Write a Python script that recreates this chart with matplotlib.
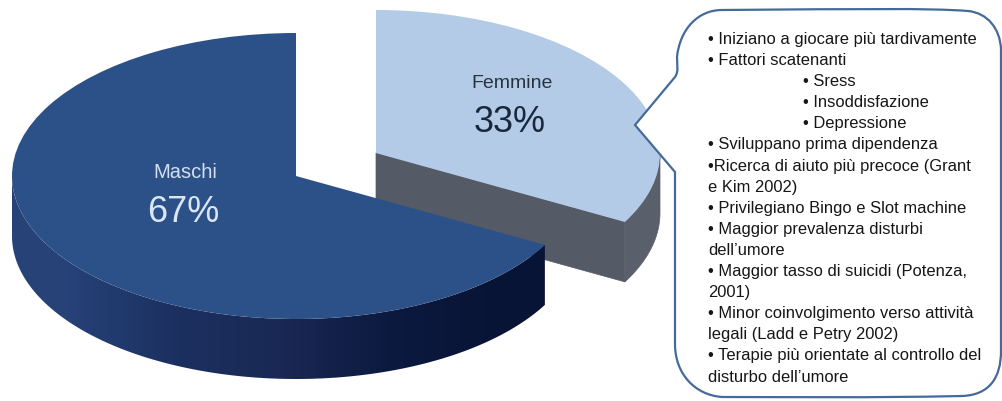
"""
Torta 3D maschi/femmine con fumetto delle caratteristiche femminili.
"""

import matplotlib

matplotlib.use("Agg")
import matplotlib.pyplot as plt
import numpy as np
from matplotlib.patches import PathPatch, Polygon
from matplotlib.path import Path
from matplotlib.transforms import Affine2D

plt.rcParams["font.family"] = ["Liberation Sans", "DejaVu Sans"]

categorie = ["Femmine", "Maschi"]
valori = [33, 67]

righe_fumetto = [
    "• Iniziano a giocare più tardivamente",
    "• Fattori scatenanti",
    "• Sress",
    "• Insoddisfazione",
    "• Depressione",
    "• Sviluppano prima dipendenza",
    "•Ricerca di aiuto più precoce (Grant",
    "e Kim 2002)",
    "• Privilegiano Bingo e Slot machine",
    "• Maggior prevalenza disturbi",
    "dell’umore",
    "• Maggior tasso di suicidi (Potenza,",
    "2001)",
    "• Minor coinvolgimento verso attività",
    "legali (Ladd e Petry 2002)",
    "• Terapie più orientate al controllo del",
    "disturbo dell’umore",
]
righe_rientrate = [2, 3, 4]

# geometria in pixel dell'immagine
RX, RY, SPESSORE = 284, 143, 60
CENTRO_M = (296, 177)
CENTRO_F = (376, 154)


def punti_arco(centro, t1, t2, dy=0, n=120):
    t = np.radians(np.linspace(t1, t2, n))
    return np.column_stack(
        [centro[0] + RX * np.cos(t), centro[1] - RY * np.sin(t) + dy]
    )


def parete_laterale(centro, t1, t2):
    """Poligono del bordo esterno visibile tra gli angoli t1 e t2."""
    return np.vstack(
        [punti_arco(centro, t1, t2), punti_arco(centro, t2, t1, dy=SPESSORE)]
    )


def disegna_fumetto(ax):
    vertici = [
        (722, 11),
        (860, 10), (930, 9), (968, 12),
        (988, 14), (1000, 30), (1001, 50),
        (1001, 150), (1001, 260), (1001, 352),
        (1001, 378), (990, 396), (962, 397),
        (870, 399), (790, 398), (722, 398),
        (695, 396), (675, 375), (675, 345),
        (675, 290), (675, 230), (675, 173),
        (635, 126),
        (675, 78),
        (679, 72), (677, 66), (677, 58),
        (680, 30), (698, 11), (722, 11),
    ]
    codici = [Path.MOVETO] + [Path.CURVE4] * 21 + [Path.LINETO] * 2 + [Path.CURVE4] * 6
    ax.add_patch(
        PathPatch(
            Path(vertici, codici),
            facecolor="white",
            edgecolor="#456a9a",
            linewidth=1.6,
            zorder=6,
        )
    )
    for i, riga in enumerate(righe_fumetto):
        x = 803 if i in righe_rientrate else 708
        ax.text(x, 39.5 + i * 21.1, riga, fontsize=11.9, color="#161616", va="center", zorder=7)


def main():
    fig = plt.figure(figsize=(10.02, 4.02), dpi=100)
    ax = fig.add_axes([0, 0, 1, 1])

    spicchi, _ = ax.pie(
        valori,
        startangle=90,
        counterclock=False,
        colors=["#b4cbe8", "#2c5088"],
        wedgeprops={"linewidth": 0},
    )
    ax.set_aspect("auto")
    ax.set_xlim(0, 1002)
    ax.set_ylim(402, 0)
    ax.axis("off")

    femmine, maschi = spicchi
    fine_f = femmine.theta1
    fine_m = maschi.theta2 if maschi.theta2 < 360 else maschi.theta2 - 360

    # pareti della fetta femmine, sotto a tutto il resto
    ang = punti_arco(CENTRO_F, fine_f, fine_f, n=1)[0]
    ax.add_patch(
        Polygon(
            [
                CENTRO_F,
                ang,
                (ang[0], ang[1] + SPESSORE),
                (CENTRO_F[0], CENTRO_F[1] + SPESSORE),
            ],
            facecolor="#555b66",
            edgecolor="#555b66",
            linewidth=0.5,
            zorder=1,
        )
    )
    ax.add_patch(
        Polygon(
            parete_laterale(CENTRO_F, fine_f, 0),
            facecolor="#5a606b",
            edgecolor="#5a606b",
            linewidth=0.5,
            zorder=1,
        )
    )
    femmine.set_transform(
        Affine2D().scale(RX, -RY).translate(*CENTRO_F) + ax.transData
    )
    femmine.set_zorder(2)

    # parete esterna dei maschi con sfumatura da sinistra a destra
    sfumatura = np.array(
        [[[0.15, 0.26, 0.47], [0.11, 0.19, 0.38], [0.10, 0.16, 0.33], [0.05, 0.10, 0.25], [0.03, 0.08, 0.21]]]
    )
    img = ax.imshow(
        sfumatura,
        extent=(CENTRO_M[0] - RX, CENTRO_M[0] + RX * 0.89, 402, 0),
        aspect="auto",
        interpolation="bilinear",
        zorder=3,
    )
    parete = Polygon(parete_laterale(CENTRO_M, 180, 360 + fine_m), transform=ax.transData)
    img.set_clip_path(parete)
    ax.set_xlim(0, 1002)
    ax.set_ylim(402, 0)

    maschi.set_transform(
        Affine2D().scale(RX, -RY).translate(*CENTRO_M) + ax.transData
    )
    maschi.set_zorder(4)

    # etichette
    ax.text(512, 83, categorie[0], fontsize=14, color="#26343f", ha="center", va="center", zorder=5)
    ax.text(510, 123, f"{valori[0]}%", fontsize=26, color="#18283c", ha="center", va="center", zorder=5)
    ax.text(185, 173, categorie[1], fontsize=14.5, color="#d3dff0", ha="center", va="center", zorder=5)
    ax.text(183, 213, f"{valori[1]}%", fontsize=26, color="#dbe6f5", ha="center", va="center", zorder=5)

    disegna_fumetto(ax)

    fig.savefig("out.png", dpi=100, facecolor="white")


if __name__ == "__main__":
    main()
